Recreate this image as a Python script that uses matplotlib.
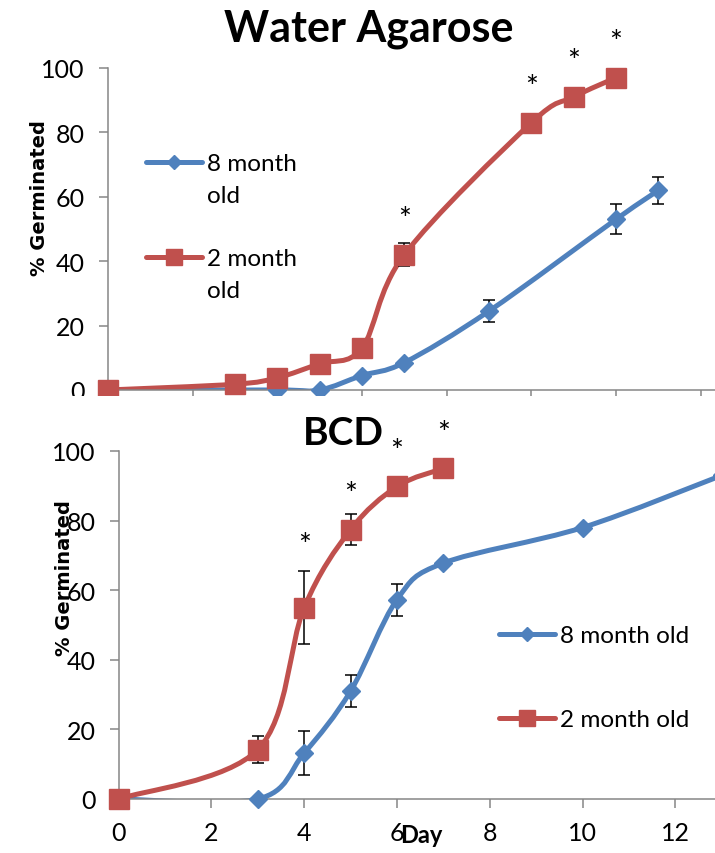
import matplotlib
matplotlib.use("Agg")
import matplotlib.pyplot as plt
from matplotlib.path import Path
from matplotlib.patches import PathPatch, Rectangle
from matplotlib.lines import Line2D

plt.rcParams['font.family'] = ['Lato', 'DejaVu Sans']

# Water Agarose
wa_days_8 = [0, 4, 5, 6, 7, 9, 12, 13]
wa_pct_8 = [0, 0, 0, 4.5, 8.5, 24.5, 53, 62]
wa_err_8 = [0, 0, 0, 0, 0, 3.5, 4.7, 4.2]
wa_days_2 = [0, 3, 4, 5, 6, 7, 10, 11, 12]
wa_pct_2 = [0, 1.8, 3.8, 8.2, 13, 42, 83, 91, 97]
wa_err_2 = [0, 0, 0, 0, 0, 3.5, 0, 0, 0]
wa_star_days = [7, 10, 11, 12]
wa_star_y = [55, 96, 104, 110]

# BCD
bcd_days_8 = [0, 3, 4, 5, 6, 7, 10, 13]
bcd_pct_8 = [0, 0, 13.2, 31, 57.3, 67.8, 78, 93]
bcd_err_8 = [0, 0, 6.3, 4.5, 4.6, 0, 0, 0]
bcd_days_2 = [0, 3, 4, 5, 6, 7]
bcd_pct_2 = [0, 14.2, 55, 77.4, 89.8, 95]
bcd_err_2 = [0, 3.9, 10.5, 4.5, 0, 0]
bcd_star_days = [4, 5, 6, 7]
bcd_star_y = [74.7, 89.4, 101.7, 107]

BLUE = '#4F81BD'
RED = '#C0504D'
W, H = 715, 854


def smooth_path(xs, ys):
    # excel style smoothed line: catmull-rom as cubic bezier
    pts = list(zip(xs, ys))
    verts = [pts[0]]
    codes = [Path.MOVETO]
    n = len(pts)
    for i in range(n - 1):
        p0 = pts[i - 1] if i > 0 else pts[i]
        p1 = pts[i]
        p2 = pts[i + 1]
        p3 = pts[i + 2] if i + 2 < n else pts[i + 1]
        c1 = (p1[0] + (p2[0] - p0[0]) / 6, p1[1] + (p2[1] - p0[1]) / 6)
        c2 = (p2[0] - (p3[0] - p1[0]) / 6, p2[1] - (p3[1] - p1[1]) / 6)
        verts += [c1, c2, p2]
        codes += [Path.CURVE4] * 3
    return Path(verts, codes)


def draw_series(ax, xs, ys, errs, color, marker, ms):
    ax.add_patch(PathPatch(smooth_path(xs, ys), facecolor='none', edgecolor=color,
                           lw=3.6, capstyle='round', joinstyle='round', zorder=2))
    ex = [x for x, e in zip(xs, errs) if e > 0]
    ey = [y for y, e in zip(ys, errs) if e > 0]
    ee = [e for e in errs if e > 0]
    if ex:
        ax.errorbar(ex, ey, yerr=ee, fmt='none', ecolor='black', elinewidth=1.1,
                    capsize=4.5, capthick=1.1, zorder=3)
    ax.plot(xs, ys, linestyle='none', marker=marker, ms=ms, color=color,
            markeredgecolor=color, zorder=4, clip_on=False)


def style_axes(ax, xmax, ypad):
    ax.set_xlim(0, xmax)
    ax.set_ylim(0, 100)
    ax.set_yticks(range(0, 101, 20))
    ax.set_xticks(range(0, 13, 2) if xmax < 15 else range(0, 15, 2))
    for s in ['top', 'right']:
        ax.spines[s].set_visible(False)
    for s in ['left', 'bottom']:
        ax.spines[s].set_color('#868686')
        ax.spines[s].set_linewidth(1.1)
    ax.tick_params(axis='both', colors='#868686', width=1.1, length=6.5,
                   labelcolor='black', labelsize=18)
    ax.tick_params(axis='y', pad=ypad)
    ax.tick_params(axis='x', pad=9)
    ax.patch.set_alpha(0)


fig = plt.figure(figsize=(W / 100, H / 100), dpi=100)

# top panel
ax1 = fig.add_axes([107.8 / W, (H - 391) / H, 16 * 42.35 / W, (391 - 69) / H])
ax1.set_zorder(0)
style_axes(ax1, 16, 10)
draw_series(ax1, wa_days_8, wa_pct_8, wa_err_8, BLUE, 'D', 9.5)
draw_series(ax1, wa_days_2, wa_pct_2, wa_err_2, RED, 's', 14.5)
for x, y in zip(wa_star_days, wa_star_y):
    ax1.annotate('*', (x, y), xytext=(0, -11), textcoords='offset points',
                 ha='center', va='baseline', fontsize=22, annotation_clip=False)
ax1.set_xticklabels([])

h8 = Line2D([], [], color=BLUE, lw=3.6, marker='D', ms=7.5, solid_capstyle='round')
h2 = Line2D([], [], color=RED, lw=3.6, marker='s', ms=12, solid_capstyle='round')
blank = Line2D([], [], linestyle='none')
ax1.legend([h8, blank, blank, h2, blank], ['8 month', 'old', '', '2 month', 'old'],
           loc='upper left', bbox_to_anchor=(146 / W, (H - 154) / H),
           bbox_transform=fig.transFigure, frameon=False, fontsize=17.5,
           handlelength=2.3, handletextpad=0.2, labelspacing=0.44,
           borderpad=0, borderaxespad=0)

# cover the lower strip of the top panel, like the cropped original
fig.patches.append(Rectangle((0, 0), 1, (H - 397) / H, transform=fig.transFigure,
                             facecolor='white', edgecolor='none', zorder=1))

# bottom panel
ax2 = fig.add_axes([118.6 / W, (H - 800) / H, 14 * 46.4 / W, 348 / H])
ax2.set_zorder(2)
style_axes(ax2, 14, 10)
draw_series(ax2, bcd_days_8, bcd_pct_8, bcd_err_8, BLUE, 'D', 9.5)
draw_series(ax2, bcd_days_2, bcd_pct_2, bcd_err_2, RED, 's', 14.5)
for x, y in zip(bcd_star_days, bcd_star_y):
    ax2.annotate('*', (x, y), xytext=(0, -11), textcoords='offset points',
                 ha='center', va='baseline', fontsize=22, annotation_clip=False)
ax2.legend([h8, h2], ['8 month old', '2 month old'],
           loc='upper left', bbox_to_anchor=(499 / W, (H - 626) / H),
           bbox_transform=fig.transFigure, frameon=False, fontsize=17.5,
           handlelength=2.3, handletextpad=0.2, labelspacing=2.6,
           borderpad=0, borderaxespad=0)

# titles and axis labels
fig.text(369 / W, (H - 41.7) / H, 'Water Agarose', ha='center', va='baseline',
         fontsize=31, fontweight='bold')
fig.text(343 / W, (H - 445) / H, 'BCD', ha='center', va='baseline',
         fontsize=28, fontweight='bold', zorder=3)
fig.text(40 / W, (H - 198) / H, '% Germinated', rotation=90, ha='center', va='center',
         fontsize=14, fontweight='bold', family='DejaVu Sans')
fig.text(65 / W, (H - 578) / H, '% Germinated', rotation=90, ha='center', va='center',
         fontsize=14, fontweight='bold', family='DejaVu Sans', zorder=3)
fig.text(421 / W, (H - 843) / H, 'Day', ha='center', va='baseline',
         fontsize=17, fontweight='bold', zorder=3)

fig.savefig('out.png', dpi=100)
